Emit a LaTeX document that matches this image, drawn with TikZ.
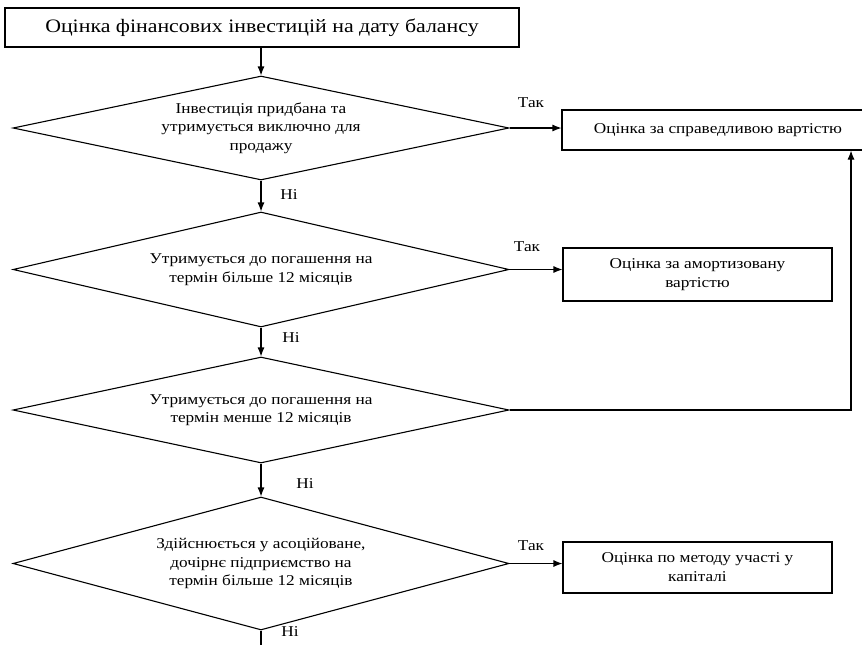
\documentclass[tikz,border=0pt]{standalone}
\usepackage{fontspec}
\setmainfont[FakeStretch=1.15]{Liberation Serif}
\usetikzlibrary{shapes.geometric,arrows.meta}
\begin{document}
\begin{tikzpicture}[x=1pt,y=-1pt,
  line width=1.1pt,
  box/.style={draw, rectangle, inner sep=0pt, align=center, font=\fontsize{15}{19}\selectfont},
  dia/.style={draw, diamond, inner sep=0pt, aspect=4.8, minimum width=496pt, align=center, font=\fontsize{15}{18.5}\selectfont},
  lbl/.style={font=\fontsize{15}{18}\selectfont, inner sep=0pt},
  arr/.style={-{Latex[length=9pt,width=7pt]}}]
\useasboundingbox (0,0) rectangle (862,645);
\clip (0,0) rectangle (862,645);
\fill[white] (0,0) rectangle (862,645);

\node[box, minimum width=514pt, minimum height=39pt, font=\fontsize{19}{22}\selectfont] (top) at (262,27.5) {Оцінка фінансових інвестицій на дату балансу};

\node[dia, minimum height=104pt] (d1) at (261,128) {Інвестиція придбана та\\утримується виключно для\\продажу};
\node[dia, minimum height=115pt] (d2) at (261,269.5) {Утримується до погашення на\\термін більше 12 місяців};
\node[dia, minimum height=106pt] (d3) at (261,410) {Утримується до погашення на\\термін менше 12 місяців};
\node[dia, minimum height=133pt] (d4) at (261,563.5) {Здійснюється у асоційоване,\\дочірнє  підприємство на\\термін більше 12 місяців};

\node[box, minimum width=312pt, minimum height=40pt] (b1) at (718,130) {Оцінка за справедливою вартістю};
\node[box, minimum width=269pt, minimum height=53pt] (b2) at (697.5,274.5) {Оцінка за амортизовану\\вартістю};
\node[box, minimum width=269pt, minimum height=51pt] (b3) at (697.5,567.5) {Оцінка по методу участі у\\капіталі};

\draw[arr] (top.south -| d1.north) -- (d1.north);
\draw[arr] (d1.south) -- (d2.north);
\draw[arr] (d2.south) -- (d3.north);
\draw[arr] (d3.south) -- (d4.north);
\coordinate (end) at (261,646);
\draw (d4.south) -- (end);

\draw[arr] (d1.east) -- (d1.east -| b1.west);
\draw[arr] (d2.east) -- (d2.east -| b2.west);
\draw[arr] (d4.east) -- (d4.east -| b3.west);

\coordinate (fb) at (851,410);
\draw[arr] (d3.east) -- (fb) -- (fb |- b1.south);

\node[lbl] (t1) at (531,103) {Так};
\node[lbl] (t2) at (527,247) {Так};
\node[lbl] (t3) at (531,546) {Так};
\node[lbl] (n1) at (289,195) {Ні};
\node[lbl] (n2) at (291,338) {Ні};
\node[lbl] (n3) at (305,484) {Ні};
\node[lbl] (n4) at (290,632) {Ні};
\end{tikzpicture}
\end{document}
